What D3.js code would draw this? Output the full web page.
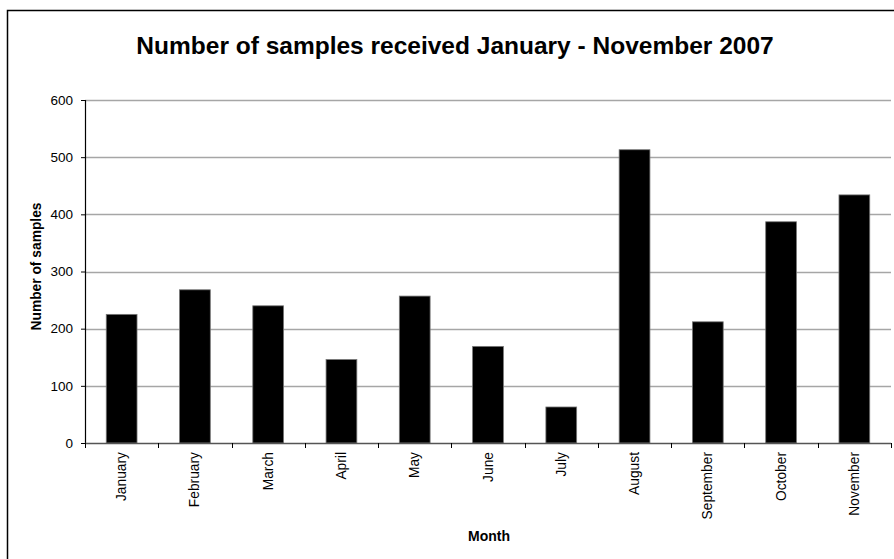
<!DOCTYPE html>
<html>
<head>
<meta charset="utf-8">
<script src="https://cdn.jsdelivr.net/npm/d3@7"></script>
<style>
  html, body { margin: 0; padding: 0; background: #fff; }
  svg { display: block; }
  text { font-family: "Liberation Sans", Arial, sans-serif; }
</style>
</head>
<body>
<svg id="chart" width="894" height="559"></svg>
<script>
// Monthly sample counts, 2007
const months = ["January", "February", "March", "April", "May", "June",
                "July", "August", "September", "October", "November"];
const samples = [225, 268, 240, 146, 257, 169, 63, 513, 212, 387, 434];
const yTicks = [0, 100, 200, 300, 400, 500, 600];

const titleText = "Number of samples received January - November 2007";
const yTitle = "Number of samples";
const xTitle = "Month";

const svg = d3.select("#chart");
const W = 894, H = 559;
const plot = { left: 85, right: 891, top: 100, bottom: 443 };

// outer chart frame (runs off the right and bottom edges)
svg.append("rect")
  .attr("x", 7.5).attr("y", 10.5)
  .attr("width", W + 20).attr("height", H + 20)
  .attr("fill", "#fff").attr("stroke", "#000").attr("stroke-width", 1.5);

const x = d3.scaleBand()
  .domain(months)
  .range([plot.left, plot.right])
  .paddingInner(0.58)
  .paddingOuter(0.29);

const y = d3.scaleLinear()
  .domain([0, 600])
  .range([plot.bottom, plot.top]);

// horizontal gridlines
svg.append("g")
  .selectAll("line")
  .data(yTicks.filter(d => d > 0))
  .join("line")
  .attr("x1", plot.left).attr("x2", plot.right)
  .attr("y1", d => Math.round(y(d)) + 0.5).attr("y2", d => Math.round(y(d)) + 0.5)
  .attr("stroke", "#a6a6a6").attr("stroke-width", 1.5);

// bars
svg.append("g")
  .selectAll("rect")
  .data(samples)
  .join("rect")
  .attr("x", (d, i) => x(months[i]))
  .attr("y", d => y(d))
  .attr("width", x.bandwidth())
  .attr("height", d => y(0) - y(d))
  .attr("fill", "#000")
  .attr("stroke", "#777").attr("stroke-width", 0.8);

// y axis
const yAxis = d3.axisLeft(y).tickValues(yTicks).tickSize(4).tickPadding(8);
const gy = svg.append("g")
  .attr("transform", `translate(${plot.left},0)`)
  .call(yAxis);
gy.select(".domain").attr("stroke", "#000").attr("stroke-width", 1.2);
gy.selectAll(".tick line").attr("stroke", "#000");
gy.selectAll(".tick text")
  .attr("font-size", 13.5)
  .attr("fill", "#000")
  .style("font-family", "'Liberation Sans', Arial, sans-serif");

// x axis: ticks sit on the category boundaries
const bounds = d3.range(months.length + 1).map(i => plot.left + i * x.step());
const gx = svg.append("g");
gx.append("line")
  .attr("x1", plot.left).attr("x2", plot.right)
  .attr("y1", plot.bottom + 0.5).attr("y2", plot.bottom + 0.5)
  .attr("stroke", "#555").attr("stroke-width", 1.5);
gx.selectAll("line.tk")
  .data(bounds)
  .join("line")
  .attr("class", "tk")
  .attr("x1", d => Math.round(d) + 0.5).attr("x2", d => Math.round(d) + 0.5)
  .attr("y1", plot.bottom).attr("y2", plot.bottom + 5)
  .attr("stroke", "#000");
gx.selectAll("text")
  .data(months)
  .join("text")
  .attr("transform", d => `translate(${x(d) + x.bandwidth() / 2 + 4.5},${plot.bottom + 9}) rotate(-90)`)
  .attr("text-anchor", "end")
  .attr("font-size", 13.8)
  .attr("fill", "#000")
  .text(d => d);

// titles
svg.append("text")
  .attr("x", 455).attr("y", 54)
  .attr("text-anchor", "middle")
  .attr("font-size", 24.5)
  .attr("font-weight", "bold")
  .text(titleText);

svg.append("text")
  .attr("transform", `translate(41,${(plot.top + plot.bottom) / 2 - 5}) rotate(-90)`)
  .attr("text-anchor", "middle")
  .attr("font-size", 13.8)
  .attr("font-weight", "bold")
  .text(yTitle);

svg.append("text")
  .attr("x", (plot.left + plot.right) / 2 + 1).attr("y", 541)
  .attr("text-anchor", "middle")
  .attr("font-size", 14)
  .attr("font-weight", "bold")
  .text(xTitle);
</script>
</body>
</html>
